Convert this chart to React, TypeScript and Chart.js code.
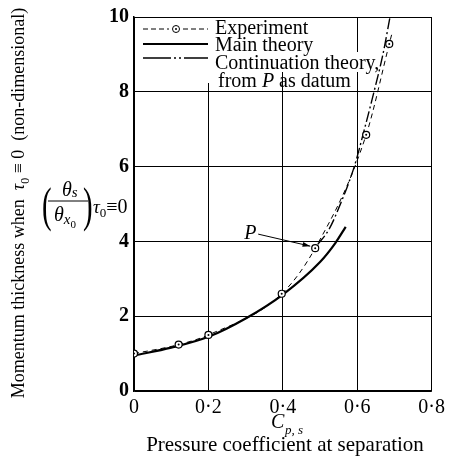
import { useEffect, useRef } from 'react';
import { Chart, registerables } from 'chart.js';

Chart.register(...registerables);

const SERIF = '"Liberation Serif", "DejaVu Serif", serif';

// Pressure coefficient at separation (x) against momentum thickness ratio (y)
const xTicks = [0, 0.2, 0.4, 0.6, 0.8];
const yTicks = [0, 2, 4, 6, 8, 10];

// Measured points
const expCp = [0, 0.12, 0.2, 0.397, 0.487, 0.624, 0.686];
const expTheta = [1.0, 1.24, 1.5, 2.6, 3.82, 6.85, 9.28];
// dashed experiment curve runs a little past the last point
const expTailCp = [0.693];
const expTailTheta = [9.55];

// Main theory (solid)
const mainCp = [0, 0.1, 0.2, 0.3, 0.4, 0.5, 0.542, 0.569];
const mainTheta = [0.95, 1.16, 1.45, 1.94, 2.58, 3.45, 3.97, 4.39];

// Continuation theory, starting from point P
const contCp = [0.494, 0.524, 0.556, 0.592, 0.618, 0.645, 0.669, 0.688];
const contTheta = [3.92, 4.32, 5.03, 6.0, 6.95, 8.0, 9.0, 10.0];

const P_INDEX = 4;

const toXY = (xs: number[], ys: number[]) => xs.map((x, i) => ({ x, y: ys[i] }));

const fmtTick = (v: number) => String(Math.round(v * 10) / 10).replace('.', '·');

type Run = { t: string; font: string; dy?: number };

function drawRuns(ctx: CanvasRenderingContext2D, runs: Run[], x: number, y: number) {
  let cx = x;
  for (const r of runs) {
    ctx.font = r.font;
    ctx.fillText(r.t, cx, y + (r.dy || 0));
    cx += ctx.measureText(r.t).width;
  }
  return cx;
}

function runsWidth(ctx: CanvasRenderingContext2D, runs: Run[]) {
  let w = 0;
  for (const r of runs) {
    ctx.font = r.font;
    w += ctx.measureText(r.t).width;
  }
  return w;
}

function tallParen(ctx: CanvasRenderingContext2D, ch: string, x: number, y: number) {
  ctx.save();
  ctx.font = `36px ${SERIF}`;
  ctx.translate(x, y);
  ctx.scale(0.8, 1.35);
  ctx.fillText(ch, 0, 0);
  ctx.restore();
}

const annotations = {
  id: 'annotations',
  beforeDatasetsDraw(chart: any) {
    const ctx = chart.ctx as CanvasRenderingContext2D;
    const left = chart.chartArea.left;
    const top = chart.chartArea.top;
    ctx.save();
    ctx.fillStyle = '#fff';
    // knock-out behind the key
    ctx.fillRect(left + 1, top + 1, 176, 34);
    ctx.fillRect(left + 1, top + 35, 245, 20);
    ctx.fillRect(left + 1, top + 55, 78, 11);
    ctx.restore();
  },
  afterDraw(chart: any) {
    const ctx = chart.ctx as CanvasRenderingContext2D;
    const xs = chart.scales.x;
    const ys = chart.scales.y;
    const top = chart.chartArea.top;
    const left = chart.chartArea.left;
    ctx.save();
    ctx.fillStyle = '#000';
    ctx.strokeStyle = '#000';
    ctx.textBaseline = 'alphabetic';
    ctx.textAlign = 'left';

    // ---- key ----
    const sx0 = left + 9;
    const sx1 = left + 74;
    const rowY = [top + 12, top + 27, top + 41];
    // experiment sample
    ctx.lineWidth = 1;
    ctx.setLineDash([5, 3]);
    ctx.beginPath();
    ctx.moveTo(sx0, rowY[0]);
    ctx.lineTo(sx0 + 26, rowY[0]);
    ctx.moveTo(sx0 + 40, rowY[0]);
    ctx.lineTo(sx1, rowY[0]);
    ctx.stroke();
    ctx.setLineDash([]);
    ctx.beginPath();
    ctx.arc(sx0 + 33, rowY[0], 3.5, 0, Math.PI * 2);
    ctx.fillStyle = '#fff';
    ctx.fill();
    ctx.stroke();
    ctx.fillStyle = '#000';
    ctx.beginPath();
    ctx.arc(sx0 + 33, rowY[0], 1, 0, Math.PI * 2);
    ctx.fill();
    // main theory sample
    ctx.lineWidth = 2;
    ctx.beginPath();
    ctx.moveTo(sx0, rowY[1]);
    ctx.lineTo(sx1, rowY[1]);
    ctx.stroke();
    // continuation sample
    ctx.lineWidth = 1.5;
    ctx.beginPath();
    ctx.moveTo(sx0, rowY[2]);
    ctx.lineTo(sx0 + 28, rowY[2]);
    ctx.moveTo(sx0 + 31, rowY[2]);
    ctx.lineTo(sx0 + 33, rowY[2]);
    ctx.moveTo(sx0 + 36, rowY[2]);
    ctx.lineTo(sx0 + 38, rowY[2]);
    ctx.moveTo(sx0 + 41, rowY[2]);
    ctx.lineTo(sx1, rowY[2]);
    ctx.stroke();

    const keyFont = `20px ${SERIF}`;
    const keyItalic = `italic 20px ${SERIF}`;
    const tx = left + 81;
    ctx.font = keyFont;
    ctx.fillText('Experiment', tx, top + 17);
    ctx.fillText('Main theory', tx, top + 34);
    ctx.fillText('Continuation theory,', tx, top + 52);
    drawRuns(ctx, [
      { t: 'from ', font: keyFont },
      { t: 'P', font: keyItalic },
      { t: ' as datum', font: keyFont },
    ], tx + 3, top + 70);

    // ---- P label and leader ----
    const px = xs.getPixelForValue(expCp[P_INDEX]);
    const py = ys.getPixelForValue(expTheta[P_INDEX]);
    ctx.font = `italic 20px ${SERIF}`;
    ctx.fillText('P', px - 71, py - 9);
    const ax0 = px - 57, ay0 = py - 14;
    const ax1 = px - 5, ay1 = py - 2;
    ctx.lineWidth = 1;
    ctx.beginPath();
    ctx.moveTo(ax0, ay0);
    ctx.lineTo(ax1, ay1);
    ctx.stroke();
    const ang = Math.atan2(ay1 - ay0, ax1 - ax0);
    ctx.beginPath();
    ctx.moveTo(ax1, ay1);
    ctx.lineTo(ax1 - 8 * Math.cos(ang - 0.3), ay1 - 8 * Math.sin(ang - 0.3));
    ctx.lineTo(ax1 - 8 * Math.cos(ang + 0.3), ay1 - 8 * Math.sin(ang + 0.3));
    ctx.closePath();
    ctx.fill();

    // ---- x axis title ----
    ctx.font = `italic 20px ${SERIF}`;
    ctx.fillText('C', 271, 428);
    ctx.font = `italic 13px ${SERIF}`;
    ctx.fillText('p, s', 285, 434);
    ctx.font = `21px ${SERIF}`;
    ctx.textAlign = 'center';
    ctx.fillText('Pressure coefficient at separation', 285, 451);
    ctx.textAlign = 'left';

    // ---- rotated y axis title ----
    const yFont = `18px ${SERIF}`;
    const yRuns: Run[] = [
      { t: 'Momentum thickness when  ', font: yFont },
      { t: 'τ', font: `italic 18px ${SERIF}` },
      { t: '0', font: `12px ${SERIF}`, dy: 5 },
      { t: ' ≡ 0  (non-dimensional)', font: yFont },
    ];
    ctx.save();
    ctx.translate(24, 203);
    ctx.rotate(-Math.PI / 2);
    const w = runsWidth(ctx, yRuns);
    drawRuns(ctx, yRuns, -w / 2, 0);
    ctx.restore();

    // ---- symbolic label (θs / θx0) τ0≡0 ----
    tallParen(ctx, '(', 42, 221);
    tallParen(ctx, ')', 83, 221);
    const th = `italic 20px ${SERIF}`;
    drawRuns(ctx, [
      { t: 'θ', font: th },
      { t: 's', font: `italic 15px ${SERIF}`, dy: 1 },
    ], 62, 196);
    ctx.lineWidth = 1;
    ctx.beginPath();
    ctx.moveTo(48, 201);
    ctx.lineTo(88, 201);
    ctx.stroke();
    drawRuns(ctx, [
      { t: 'θ', font: th },
      { t: 'x', font: `italic 15px ${SERIF}`, dy: 3 },
      { t: '0', font: `11px ${SERIF}`, dy: 7 },
    ], 54, 221);
    drawRuns(ctx, [
      { t: 'τ', font: `italic 19px ${SERIF}` },
      { t: '0', font: `13px ${SERIF}`, dy: 4 },
      { t: '≡0', font: `20px ${SERIF}` },
    ], 93, 213);

    ctx.restore();
  },
};

export default function App() {
  const canvasRef = useRef<HTMLCanvasElement | null>(null);

  useEffect(() => {
    document.body.style.margin = '0';
    const canvas = canvasRef.current;
    if (!canvas) return;

    const chart = new Chart(canvas, {
      type: 'scatter',
      data: {
        datasets: [
          {
            label: 'Main theory',
            data: toXY(mainCp, mainTheta),
            showLine: true,
            borderColor: '#000',
            borderWidth: 2.2,
            pointRadius: 0,
            cubicInterpolationMode: 'monotone',
            order: 3,
          },
          {
            label: 'Continuation theory, from P as datum',
            data: toXY(contCp, contTheta),
            showLine: true,
            borderColor: '#000',
            borderWidth: 1.4,
            borderDash: [11, 3, 2, 3],
            pointRadius: 0,
            cubicInterpolationMode: 'monotone',
            order: 2,
          },
          {
            label: 'Experiment',
            data: toXY(expCp.concat(expTailCp), expTheta.concat(expTailTheta)),
            showLine: true,
            borderColor: '#000',
            borderWidth: 1,
            borderDash: [5, 4],
            pointRadius: expCp.map(() => 3.5).concat(expTailCp.map(() => 0)),
            pointBackgroundColor: '#fff',
            pointBorderColor: '#000',
            pointBorderWidth: 1.2,
            cubicInterpolationMode: 'monotone',
            order: 1,
          },
          {
            label: 'Experiment centres',
            data: toXY(expCp, expTheta),
            showLine: false,
            pointRadius: 1,
            pointBackgroundColor: '#000',
            pointBorderWidth: 0,
            order: 0,
          },
        ],
      },
      options: {
        responsive: false,
        animation: false,
        devicePixelRatio: 1,
        layout: { padding: { left: 0, right: 7, top: 11, bottom: 0 } },
        plugins: {
          legend: { display: false },
          tooltip: { enabled: false },
        },
        scales: {
          x: {
            type: 'linear',
            min: 0,
            max: 0.8,
            afterFit: (s: any) => { s.height = 73; },
            afterBuildTicks: (s: any) => { s.ticks = xTicks.map((v) => ({ value: v })); },
            grid: { color: '#000', lineWidth: 1, drawTicks: false },
            border: { display: true, color: '#000', width: 1.5 },
            ticks: {
              padding: 5,
              color: '#000',
              font: { family: SERIF, size: 20 },
              callback: (v: any) => fmtTick(Number(v)),
            },
          },
          y: {
            type: 'linear',
            min: 0,
            max: 10,
            afterFit: (s: any) => { s.width = 134; },
            afterBuildTicks: (s: any) => { s.ticks = yTicks.map((v) => ({ value: v })); },
            grid: { color: '#000', lineWidth: 1, drawTicks: false },
            border: { display: true, color: '#000', width: 1.5 },
            ticks: {
              padding: 5,
              color: '#000',
              font: { family: SERIF, size: 20, weight: 'bold' },
              callback: (v: any) => String(v),
            },
          },
        },
      },
      plugins: [annotations],
    } as any);

    return () => chart.destroy();
  }, []);

  return <canvas ref={canvasRef} width={450} height={464} style={{ display: 'block' }} />;
}
